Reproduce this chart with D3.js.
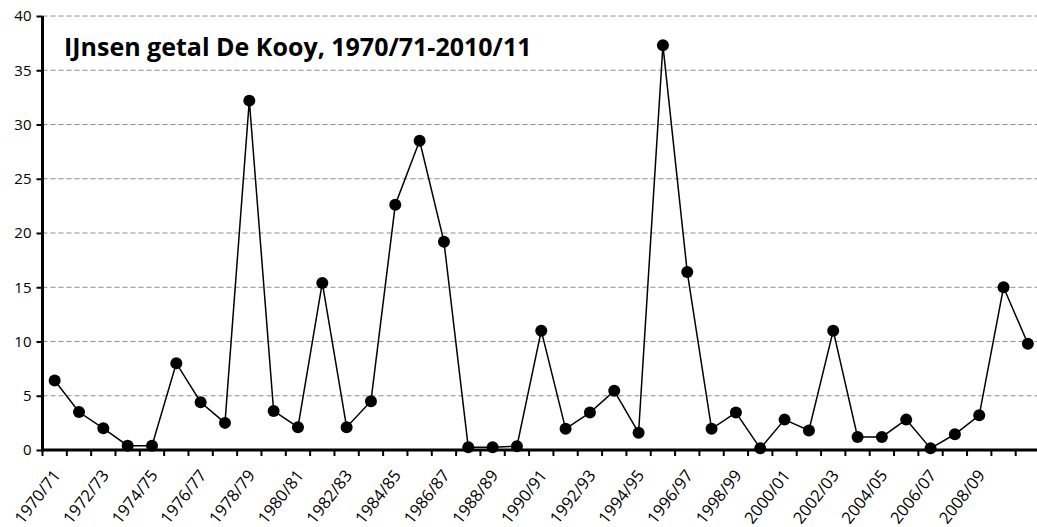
<!DOCTYPE html>
<html>
<head>
<meta charset="utf-8">
<script src="https://cdn.jsdelivr.net/npm/d3@7"></script>
<style>
  body { margin: 0; background: #fff; }
  svg { display: block; }
</style>
</head>
<body>
<div id="chart"></div>
<script>
// seizoenen en ijsgetal
var seasons = ["1970/71","1971/72","1972/73","1973/74","1974/75","1975/76","1976/77","1977/78","1978/79","1979/80",
  "1980/81","1981/82","1982/83","1983/84","1984/85","1985/86","1986/87","1987/88","1988/89","1989/90",
  "1990/91","1991/92","1992/93","1993/94","1994/95","1995/96","1996/97","1997/98","1998/99","1999/00",
  "2000/01","2001/02","2002/03","2003/04","2004/05","2005/06","2006/07","2007/08","2008/09","2009/10","2010/11"];
var ijsgetal = [6.4, 3.5, 2.0, 0.4, 0.4, 8.0, 4.4, 2.5, 32.2, 3.6,
  2.1, 15.4, 2.1, 4.5, 22.6, 28.5, 19.2, 0.25, 0.25, 0.35,
  11.0, 1.95, 3.45, 5.45, 1.6, 37.3, 16.4, 1.95, 3.45, 0.15,
  2.8, 1.8, 11.0, 1.2, 1.2, 2.8, 0.15, 1.45, 3.2, 15.0, 9.8];
var tickLabels = ["1970/71","1972/73","1974/75","1976/77","1978/79","1980/81","1982/83","1984/85","1986/87","1988/89",
  "1990/91","1992/93","1994/95","1996/97","1998/99","2000/01","2002/03","2004/05","2006/07","2008/09"];
var yTicks = [0, 5, 10, 15, 20, 25, 30, 35, 40];
var title = "IJnsen getal De Kooy, 1970/71-2010/11";

var W = 1037, H = 527;
var plotLeft = 42.5, plotTop = 16, plotBottom = 450;
var step = 24.33;

var svg = d3.select("#chart").append("svg")
    .attr("width", W)
    .attr("height", H);

var x = d3.scaleBand()
    .domain(seasons)
    .range([plotLeft, plotLeft + step * seasons.length]);
var y = d3.scaleLinear()
    .domain([0, 40])
    .range([plotBottom, plotTop]);

// gridlijnen
svg.append("g")
    .selectAll("line")
    .data(yTicks.filter(function (d) { return d > 0; }))
    .enter().append("line")
    .attr("x1", plotLeft)
    .attr("x2", W)
    .attr("y1", function (d) { return y(d); })
    .attr("y2", function (d) { return y(d); })
    .attr("stroke", "#8c8c8c")
    .attr("stroke-width", 1)
    .attr("stroke-dasharray", "5,3");

// Y as
var yAxis = svg.append("g")
    .attr("transform", "translate(" + plotLeft + ",0)")
    .call(d3.axisLeft(y).tickValues(yTicks).tickSize(6).tickPadding(5));
yAxis.select(".domain").attr("stroke", "#000").attr("stroke-width", 3)
    .attr("d", "M0," + plotTop + "V" + plotBottom);
yAxis.selectAll(".tick line").attr("stroke", "#000").attr("stroke-width", 2);
yAxis.selectAll("text")
    .style("font-family", "Open Sans, sans-serif")
    .style("font-size", "15px")
    .attr("fill", "#000");

// X as
var xAxis = svg.append("g")
    .attr("transform", "translate(0," + plotBottom + ")");
xAxis.append("line")
    .attr("x1", plotLeft - 1.5)
    .attr("x2", W)
    .attr("stroke", "#000")
    .attr("stroke-width", 3);
xAxis.selectAll(".tk")
    .data(seasons)
    .enter().append("line")
    .attr("class", "tk")
    .attr("x1", function (d) { return x(d); })
    .attr("x2", function (d) { return x(d); })
    .attr("y1", 0)
    .attr("y2", 6)
    .attr("stroke", "#000")
    .attr("stroke-width", 2);
xAxis.selectAll(".lbl")
    .data(tickLabels)
    .enter().append("text")
    .attr("class", "lbl")
    .attr("text-anchor", "end")
    .attr("transform", function (d) {
        return "translate(" + (x(d) + x.bandwidth() / 2 + 2) + ",22) rotate(-52)";
    })
    .attr("dy", "0.35em")
    .style("font-family", "Open Sans, sans-serif")
    .style("font-size", "16.5px")
    .text(function (d) { return d; });

// lijn
svg.append("path")
    .datum(ijsgetal)
    .attr("fill", "none")
    .attr("stroke", "#000")
    .attr("stroke-width", 1.5)
    .attr("d", d3.line()
        .x(function (d, i) { return x(seasons[i]) + x.bandwidth() / 2; })
        .y(function (d) { return y(d); }));

// punten
svg.append("g")
    .selectAll("circle")
    .data(ijsgetal)
    .enter().append("circle")
    .attr("cx", function (d, i) { return x(seasons[i]) + x.bandwidth() / 2; })
    .attr("cy", function (d) { return y(d); })
    .attr("r", 6)
    .attr("fill", "#000");

// titel
svg.append("text")
    .attr("x", 64)
    .attr("y", 56)
    .text(title)
    .style("font-family", "Open Sans, sans-serif")
    .style("font-weight", "700")
    .style("font-size", "25px");
</script>
</body>
</html>
